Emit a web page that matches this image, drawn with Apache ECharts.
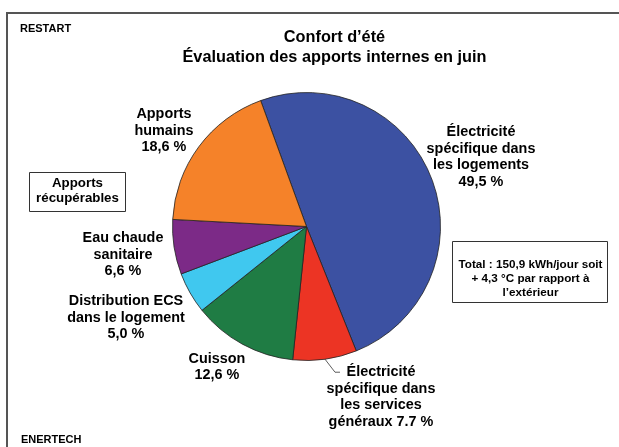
<!DOCTYPE html>
<html>
<head>
<meta charset="utf-8">
<script src="https://cdn.jsdelivr.net/npm/echarts@6/dist/echarts.min.js"></script>
<style>
  html, body { margin: 0; padding: 0; background: #fff; }
  #chart { width: 619px; height: 447px; }
</style>
</head>
<body>
<div id="chart"></div>
<script>
// Internal heat gains in June, share of each source (%)
const categories = [
  'Électricité spécifique dans les logements',
  'Électricité spécifique dans les services généraux',
  'Cuisson',
  'Distribution ECS dans le logement',
  'Eau chaude sanitaire',
  'Apports humains'
];
const shares = [49.5, 7.7, 12.6, 5.0, 6.6, 18.6];
// Label text, {v} is replaced by the formatted share
const labelTemplates = [
  'Électricité\nspécifique dans\nles logements\n{v}',
  'Électricité\nspécifique dans\nles services\ngénéraux {v}',
  'Cuisson\n{v}',
  'Distribution ECS\ndans le logement\n{v}',
  'Eau chaude\nsanitaire\n{v}',
  'Apports\nhumains\n{v}'
];
const decimalSeparators = [',', '.', ',', ',', ',', ','];
const sliceColors = ['#3c51a2', '#ec3424', '#1f7c44', '#40c8ef', '#7c2a87', '#f58229'];
// Label anchor points (label block centres)
const labelAnchors = [
  [481, 157], [381, 397], [217, 367], [126, 318], [123, 255], [164, 131]
];

const FONT = '"Liberation Sans", Arial, sans-serif';

function formatShare(v, sep) {
  return v.toFixed(1).replace('.', sep) + ' %';
}

const chart = echarts.init(document.getElementById('chart'), null, { renderer: 'canvas' });

chart.setOption({
  backgroundColor: '#ffffff',
  animation: false,
  title: {
    text: 'Confort d’été\nÉvaluation des apports internes en juin',
    left: 329.5,
    top: 23,
    textAlign: 'center',
    textStyle: {
      fontFamily: FONT, fontSize: 16.3, fontWeight: 'bold', color: '#000', lineHeight: 20
    }
  },
  graphic: [
    { type: 'rect', shape: { x: 7, y: 13, width: 640, height: 470 },
      style: { fill: 'none', stroke: '#555', lineWidth: 2 }, silent: true, z: 0 },
    { type: 'text', x: 20, y: 29,
      style: { text: 'RESTART', font: 'bold 11px ' + FONT, fill: '#000', verticalAlign: 'middle' } },
    { type: 'text', x: 21, y: 440,
      style: { text: 'ENERTECH', font: 'bold 11px ' + FONT, fill: '#000', verticalAlign: 'middle' } },
    { type: 'rect', shape: { x: 29.5, y: 172.5, width: 96, height: 39 },
      style: { fill: '#fff', stroke: '#333', lineWidth: 1 } },
    { type: 'text', x: 77.5, y: 191,
      style: { text: 'Apports\nrécupérables', font: 'bold 13.3px ' + FONT, fill: '#000',
               align: 'center', verticalAlign: 'middle', lineHeight: 15 } },
    { type: 'rect', shape: { x: 452.5, y: 241.5, width: 155, height: 61 },
      style: { fill: '#fff', stroke: '#333', lineWidth: 1 } },
    { type: 'text', x: 530.5, y: 278.5,
      style: { text: 'Total : 150,9 kWh/jour soit\n+ 4,3 °C par rapport à\nl’extérieur',
               font: 'bold 11.7px ' + FONT, fill: '#000',
               align: 'center', verticalAlign: 'middle', lineHeight: 14 } }
  ],
  series: [{
    type: 'pie',
    center: [306.5, 226.5],
    radius: 134,
    startAngle: 110,
    clockwise: true,
    avoidLabelOverlap: false,
    itemStyle: { borderColor: '#222', borderWidth: 0.8 },
    label: {
      show: true,
      position: 'outside',
      fontFamily: FONT,
      fontSize: 14.4,
      fontWeight: 'bold',
      color: '#000',
      lineHeight: 16.5,
      align: 'center',
      formatter: p => labelTemplates[p.dataIndex].replace('{v}', formatShare(p.value, decimalSeparators[p.dataIndex]))
    },
    labelLine: { show: false },
    labelLayout: p => {
      const out = {
        x: labelAnchors[p.dataIndex][0],
        y: labelAnchors[p.dataIndex][1],
        align: 'center',
        verticalAlign: 'middle'
      };
      // Leader from the slice edge, bending toward the first label line
      if (p.dataIndex === 1 && p.labelLinePoints) {
        const s = p.labelLinePoints[0];
        out.labelLinePoints = [
          [s[0], s[1]],
          [s[0] + 10, s[1] + 13],
          [s[0] + 15, s[1] + 13]
        ];
      }
      return out;
    },
    data: categories.map((c, i) => ({
      name: c,
      value: shares[i],
      itemStyle: { color: sliceColors[i] },
      labelLine: i === 1
        ? { show: true, length: 8, length2: 6, lineStyle: { color: '#333', width: 0.8 } }
        : { show: false }
    }))
  }]
});
</script>
</body>
</html>
